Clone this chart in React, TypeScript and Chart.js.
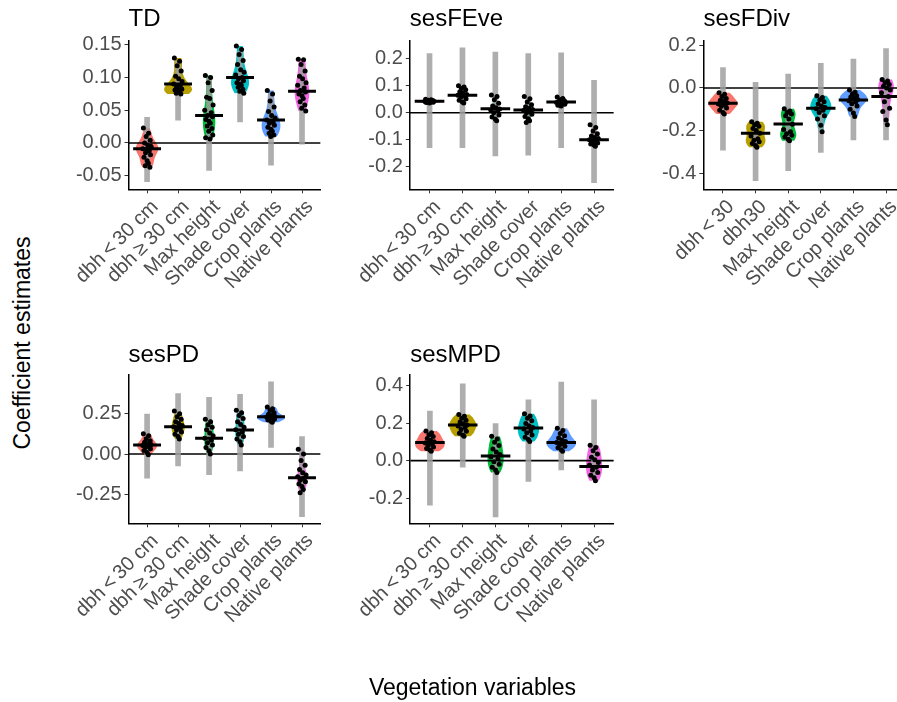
import React, { useEffect, useRef } from "react";
import { Chart, registerables } from "chart.js";
Chart.register(...registerables);

const FONT = '"Liberation Sans", Arial, sans-serif';
Chart.defaults.font.family = FONT;

// ---------- data ----------
const CATEGORIES = ["dbh\u2009<\u200930 cm", "dbh\u2009\u2265\u200930 cm", "Max height", "Shade cover", "Crop plants", "Native plants"];
const CATEGORIES_FDIV = ["dbh\u2009<\u200930", "dbh30", "Max height", "Shade cover", "Crop plants", "Native plants"];
const COLORS = ["#F8766D", "#B79F00", "#00BA38", "#00BFC4", "#619CFF", "#F564E3"];
const ZERO_LINE = 0;

// TD
const TD_POINTS = [
  [0.023, 0.015, 0.010, 0.004, 0.0, -0.003, -0.006, -0.009, -0.012, -0.015, -0.018, -0.022, -0.027, -0.031, -0.035, -0.037, -0.010, -0.005],
  [0.130, 0.125, 0.118, 0.110, 0.102, 0.098, 0.094, 0.090, 0.088, 0.085, 0.083, 0.081, 0.079, 0.077, 0.076, 0.075, 0.080, 0.082],
  [0.103, 0.100, 0.092, 0.080, 0.070, 0.068, 0.058, 0.050, 0.046, 0.042, 0.040, 0.036, 0.033, 0.030, 0.026, 0.022, 0.018, 0.012, 0.008, 0.006],
  [0.148, 0.143, 0.135, 0.126, 0.120, 0.112, 0.108, 0.104, 0.100, 0.098, 0.095, 0.092, 0.090, 0.088, 0.085, 0.082, 0.079, 0.076],
  [0.080, 0.075, 0.064, 0.055, 0.048, 0.042, 0.038, 0.035, 0.032, 0.030, 0.027, 0.024, 0.021, 0.018, 0.015, 0.012, 0.010],
  [0.128, 0.127, 0.120, 0.110, 0.102, 0.098, 0.092, 0.088, 0.084, 0.080, 0.078, 0.075, 0.072, 0.068, 0.063, 0.058, 0.053, 0.049],
];
const TD_MEAN = [-0.009, 0.090, 0.042, 0.100, 0.035, 0.079];
const TD_LO = [-0.059, 0.035, -0.042, 0.032, -0.034, -0.002];
const TD_HI = [0.039, 0.125, 0.100, 0.140, 0.075, 0.120];
const TD_TICKS = [-0.05, 0, 0.05, 0.1, 0.15];

// sesFEve
const FEVE_POINTS = [
  [0.050, 0.048, 0.046, 0.045, 0.044, 0.043, 0.043, 0.042, 0.041, 0.040, 0.039, 0.038, 0.036],
  [0.100, 0.095, 0.090, 0.085, 0.078, 0.072, 0.068, 0.065, 0.062, 0.058, 0.052, 0.046, 0.040, 0.036],
  [0.066, 0.060, 0.048, 0.035, 0.025, 0.018, 0.014, 0.010, 0.006, 0.000, -0.008, -0.016, -0.024, -0.030],
  [0.060, 0.052, 0.040, 0.030, 0.022, 0.016, 0.012, 0.008, 0.004, 0.000, -0.006, -0.014, -0.022, -0.030, -0.036],
  [0.058, 0.053, 0.048, 0.044, 0.042, 0.040, 0.039, 0.038, 0.036, 0.034, 0.031, 0.028, 0.025],
  [-0.045, -0.055, -0.068, -0.078, -0.086, -0.092, -0.096, -0.100, -0.104, -0.108, -0.112, -0.116, -0.120, -0.124],
];
const FEVE_MEAN = [0.043, 0.065, 0.015, 0.010, 0.040, -0.100];
const FEVE_LO = [-0.130, -0.130, -0.160, -0.157, -0.130, -0.259];
const FEVE_HI = [0.219, 0.241, 0.225, 0.219, 0.222, 0.120];
const FEVE_TICKS = [-0.2, -0.1, 0, 0.1, 0.2];

// sesFDiv
const FDIV_POINTS = [
  [-0.022, -0.030, -0.040, -0.050, -0.058, -0.064, -0.070, -0.075, -0.080, -0.086, -0.094, -0.104, -0.115, -0.122],
  [-0.158, -0.165, -0.172, -0.180, -0.190, -0.200, -0.212, -0.225, -0.238, -0.245, -0.252, -0.260, -0.270, -0.278],
  [-0.098, -0.108, -0.115, -0.122, -0.130, -0.145, -0.170, -0.195, -0.205, -0.215, -0.222, -0.230, -0.240, -0.248],
  [-0.036, -0.045, -0.055, -0.065, -0.075, -0.085, -0.092, -0.098, -0.105, -0.115, -0.130, -0.145, -0.175, -0.205],
  [-0.010, -0.020, -0.028, -0.036, -0.042, -0.048, -0.054, -0.060, -0.066, -0.074, -0.085, -0.100, -0.118, -0.134],
  [0.040, 0.032, 0.024, 0.016, 0.008, 0.000, -0.010, -0.022, -0.040, -0.065, -0.095, -0.110, -0.150, -0.172],
];
const FDIV_MEAN = [-0.072, -0.212, -0.169, -0.095, -0.057, -0.040];
const FDIV_LO = [-0.292, -0.435, -0.388, -0.302, -0.243, -0.243];
const FDIV_HI = [0.095, 0.026, 0.065, 0.115, 0.135, 0.185];
const FDIV_TICKS = [-0.4, -0.2, 0, 0.2];

// sesPD
const PD_POINTS = [
  [0.125, 0.112, 0.095, 0.082, 0.072, 0.064, 0.058, 0.052, 0.046, 0.040, 0.032, 0.022, 0.010, -0.004],
  [0.265, 0.248, 0.230, 0.215, 0.200, 0.188, 0.176, 0.168, 0.158, 0.148, 0.136, 0.122, 0.108, 0.092],
  [0.215, 0.200, 0.180, 0.165, 0.150, 0.130, 0.112, 0.098, 0.085, 0.070, 0.055, 0.040, 0.020, 0.000],
  [0.270, 0.255, 0.238, 0.220, 0.200, 0.182, 0.165, 0.150, 0.136, 0.122, 0.108, 0.092, 0.075, 0.055],
  [0.290, 0.280, 0.268, 0.255, 0.245, 0.238, 0.232, 0.228, 0.224, 0.220, 0.215, 0.210, 0.203, 0.196],
  [0.030, 0.000, -0.040, -0.070, -0.095, -0.115, -0.130, -0.140, -0.150, -0.160, -0.172, -0.185, -0.200, -0.220, -0.240],
];
const PD_MEAN = [0.056, 0.169, 0.097, 0.148, 0.230, -0.146];
const PD_LO = [-0.150, -0.074, -0.128, -0.105, 0.041, -0.387];
const PD_HI = [0.247, 0.374, 0.350, 0.368, 0.446, 0.107];
const PD_TICKS = [-0.25, 0, 0.25];

// sesMPD
const MPD_POINTS = [
  [0.158, 0.148, 0.138, 0.128, 0.118, 0.108, 0.100, 0.094, 0.088, 0.080, 0.072, 0.064, 0.056, 0.050],
  [0.245, 0.236, 0.226, 0.215, 0.205, 0.196, 0.190, 0.184, 0.176, 0.166, 0.156, 0.146, 0.136, 0.130],
  [0.130, 0.115, 0.098, 0.080, 0.062, 0.046, 0.032, 0.020, 0.008, -0.006, -0.020, -0.036, -0.050, -0.064],
  [0.250, 0.238, 0.225, 0.212, 0.198, 0.186, 0.176, 0.168, 0.158, 0.148, 0.136, 0.124, 0.112, 0.102],
  [0.172, 0.160, 0.145, 0.132, 0.120, 0.110, 0.102, 0.096, 0.090, 0.084, 0.076, 0.068, 0.058, 0.050],
  [0.082, 0.070, 0.052, 0.035, 0.018, 0.004, -0.010, -0.024, -0.036, -0.050, -0.064, -0.078, -0.092, -0.108],
];
const MPD_MEAN = [0.097, 0.189, 0.025, 0.174, 0.097, -0.032];
const MPD_LO = [-0.238, -0.035, -0.300, -0.111, -0.049, -0.102];
const MPD_HI = [0.264, 0.409, 0.197, 0.324, 0.418, 0.324];
const MPD_TICKS = [-0.2, 0, 0.2, 0.4];

// horizontal jitter of points (category units), a style pattern
const JITTER = [-0.12, 0.05, -0.03, 0.1, -0.08, 0.02, 0.13, -0.14, 0.07, -0.05, 0.11, -0.1, 0.0, 0.04, -0.06, 0.09, -0.01, 0.12, -0.11, 0.03];

// ---------- panels ----------
type Box = { L: number; T: number; R: number; B: number; cl: number; ct: number; tc: number };
type Panel = {
  title: string; cats: string[]; points: number[][]; mean: number[]; lo: number[]; hi: number[];
  ticks: number[]; decimals: number; ymin: number; ymax: number; box: Box;
};

const PANELS: Panel[] = [
  { title: "TD", cats: CATEGORIES, points: TD_POINTS, mean: TD_MEAN, lo: TD_LO, hi: TD_HI, ticks: TD_TICKS, decimals: 2, ymin: -0.0708, ymax: 0.1558,
    box: { L: 128.5, T: 41, R: 320.6, B: 189.3, cl: 40, ct: 0, tc: 19 } },
  { title: "sesFEve", cats: CATEGORIES, points: FEVE_POINTS, mean: FEVE_MEAN, lo: FEVE_LO, hi: FEVE_HI, ticks: FEVE_TICKS, decimals: 1, ymin: -0.284, ymax: 0.266,
    box: { L: 409.8, T: 41, R: 613.8, B: 189.3, cl: 330, ct: 0, tc: 19 } },
  { title: "sesFDiv", cats: CATEGORIES_FDIV, points: FDIV_POINTS, mean: FDIV_MEAN, lo: FDIV_LO, hi: FDIV_HI, ticks: FDIV_TICKS, decimals: 1, ymin: -0.475, ymax: 0.22,
    box: { L: 703.4, T: 41, R: 905.6, B: 189.3, cl: 630, ct: 0, tc: 19 } },
  { title: "sesPD", cats: CATEGORIES, points: PD_POINTS, mean: PD_MEAN, lo: PD_LO, hi: PD_HI, ticks: PD_TICKS, decimals: 2, ymin: -0.428, ymax: 0.488,
    box: { L: 128.5, T: 375, R: 320.6, B: 523.3, cl: 40, ct: 330, tc: 355.5 } },
  { title: "sesMPD", cats: CATEGORIES, points: MPD_POINTS, mean: MPD_MEAN, lo: MPD_LO, hi: MPD_HI, ticks: MPD_TICKS, decimals: 1, ymin: -0.334, ymax: 0.456,
    box: { L: 410.2, T: 375, R: 613.8, B: 523.3, cl: 330, ct: 330, tc: 355.5 } },
];

// ---------- violin density (as ggplot's stat_ydensity: bw.nrd0, trimmed, area scaled) ----------
function bwNrd0(x: number[]) {
  const n = x.length;
  const m = x.reduce((a, b) => a + b, 0) / n;
  const sd = Math.sqrt(x.reduce((a, b) => a + (b - m) * (b - m), 0) / (n - 1));
  const s = [...x].sort((a, b) => a - b);
  const q = (p: number) => { const h = (n - 1) * p; const i = Math.floor(h); return s[i] + (h - i) * (s[Math.min(i + 1, n - 1)] - s[i]); };
  let lo = Math.min(sd, (q(0.75) - q(0.25)) / 1.34);
  if (!(lo > 0)) lo = sd || 1;
  return 0.9 * lo * Math.pow(n, -0.2);
}
function density(x: number[]) {
  const bw = bwNrd0(x);
  const ymin = Math.min(...x), ymax = Math.max(...x);
  const N = 80;
  const out: { y: number; d: number }[] = [];
  for (let k = 0; k <= N; k++) {
    const y = ymin + ((ymax - ymin) * k) / N;
    let s = 0;
    for (const v of x) { const z = (y - v) / bw; s += Math.exp(-0.5 * z * z); }
    out.push({ y, d: s / (x.length * bw * Math.sqrt(2 * Math.PI)) });
  }
  return out;
}

const XH = 130;

function PanelChart({ p }: { p: Panel }) {
  const ref = useRef<HTMLCanvasElement>(null);
  const { L, T, R, B, cl, ct, tc } = p.box;
  const width = Math.ceil(R - cl + 12);
  const height = Math.ceil(B - ct + XH);

  useEffect(() => {
    const profiles = p.points.map(density);
    const dmax = Math.max(...profiles.flatMap((pr) => pr.map((q) => q.d)));

    const violinPlugin = {
      id: "violins",
      beforeDatasetsDraw(chart: any) {
        const { ctx, chartArea, scales } = chart;
        const xs = scales.x, ys = scales.y;
        ctx.save();
        ctx.beginPath();
        ctx.rect(chartArea.left, chartArea.top, chartArea.right - chartArea.left, chartArea.bottom - chartArea.top);
        ctx.clip();
        profiles.forEach((pr, i) => {
          ctx.beginPath();
          pr.forEach((q, k) => {
            const px = xs.getPixelForValue(i - (0.45 * q.d) / dmax);
            const py = ys.getPixelForValue(q.y);
            if (k === 0) ctx.moveTo(px, py); else ctx.lineTo(px, py);
          });
          for (let k = pr.length - 1; k >= 0; k--) {
            const q = pr[k];
            ctx.lineTo(xs.getPixelForValue(i + (0.45 * q.d) / dmax), ys.getPixelForValue(q.y));
          }
          ctx.closePath();
          ctx.fillStyle = COLORS[i];
          ctx.fill();
        });
        const y0 = ys.getPixelForValue(ZERO_LINE);
        ctx.beginPath();
        ctx.moveTo(chartArea.left, y0);
        ctx.lineTo(chartArea.right, y0);
        ctx.lineWidth = 1.6;
        ctx.strokeStyle = "#000";
        ctx.stroke();
        ctx.restore();
      },
    };

    const pts: { x: number; y: number }[] = [];
    p.points.forEach((arr, i) => arr.forEach((v, j) => pts.push({ x: i + JITTER[j % JITTER.length], y: v })));

    const axisGrid = { drawOnChartArea: false, drawTicks: true, tickLength: 4, color: "#333", lineWidth: 1, offset: false };
    const axisBorder = { display: true, color: "#000", width: 1.5 };

    const chart = new Chart(ref.current as HTMLCanvasElement, {
      type: "scatter",
      data: {
        datasets: [
          {
            type: "scatter",
            data: p.mean.map((m, i) => ({ x: i, y: m })),
            pointStyle: "line",
            pointRadius: (c: any) => {
              const xs = c.chart.scales.x;
              return 0.45 * Math.abs(xs.getPixelForValue(1) - xs.getPixelForValue(0));
            },
            borderColor: "#000",
            borderWidth: 3,
            order: 0,
          } as any,
          {
            type: "scatter",
            data: pts,
            pointRadius: 2.5,
            backgroundColor: "#000",
            borderWidth: 0,
            order: 1,
          } as any,
          {
            type: "bar",
            data: p.lo.map((l, i) => ({ x: i, y: [l, p.hi[i]] })),
            backgroundColor: "rgba(160,160,160,0.85)",
            borderWidth: 0,
            barThickness: 5,
            grouped: false,
            order: 2,
          } as any,
        ],
      },
      options: {
        responsive: false,
        animation: false,
        events: [],
        layout: { padding: { left: 0, top: 0, right: width - (R - cl), bottom: height - (B - ct) - XH } },
        plugins: {
          legend: { display: false },
          tooltip: { enabled: false },
          title: {
            display: true,
            text: p.title,
            align: "start",
            fullSize: false,
            color: "#000",
            font: { size: 24, family: FONT, weight: "normal" },
            padding: { top: tc - ct - 14.4, bottom: T - tc - 14.4 },
          },
        },
        scales: {
          x: {
            type: "linear",
            min: -0.6,
            max: 5.6,
            offset: false,
            afterBuildTicks: (s: any) => { s.ticks = p.cats.map((_, i) => ({ value: i })); },
            afterFit: (s: any) => { s.height = XH; },
            ticks: {
              autoSkip: false,
              minRotation: 45,
              maxRotation: 45,
              color: "#4D4D4D",
              font: { size: 20, family: FONT },
              padding: 2,
              labelOffset: 8,
              callback: (v: any) => p.cats[Math.round(Number(v))],
            },
            grid: axisGrid,
            border: axisBorder,
          },
          y: {
            type: "linear",
            min: p.ymin,
            max: p.ymax,
            afterBuildTicks: (s: any) => { s.ticks = p.ticks.map((v) => ({ value: v })); },
            afterFit: (s: any) => { s.width = L - cl; },
            ticks: {
              autoSkip: false,
              color: "#4D4D4D",
              font: { size: 20, family: FONT },
              padding: 3,
              callback: (v: any) => Number(v).toFixed(p.decimals),
            },
            grid: axisGrid,
            border: axisBorder,
          },
        },
      } as any,
      plugins: [violinPlugin],
    });
    return () => chart.destroy();
  }, []);

  return (
    <canvas
      ref={ref}
      width={width}
      height={height}
      style={{ position: "absolute", left: cl, top: ct, width, height }}
    />
  );
}

export default function App() {
  return (
    <div style={{ position: "fixed", left: 0, top: 0, width: 897, height: 702, overflow: "hidden", background: "#fff" }}>
      {PANELS.map((p) => (
        <PanelChart key={p.title} p={p} />
      ))}
      <div
        style={{
          position: "absolute", left: 22, top: 343, transform: "translate(-50%, -50%) rotate(-90deg)",
          whiteSpace: "nowrap", font: `23px ${FONT}`, color: "#000",
        }}
      >
        Coefficient estimates
      </div>
      <div
        style={{
          position: "absolute", left: 472.5, top: 687, transform: "translate(-50%, -50%)",
          whiteSpace: "nowrap", font: `23px ${FONT}`, color: "#000",
        }}
      >
        Vegetation variables
      </div>
    </div>
  );
}
